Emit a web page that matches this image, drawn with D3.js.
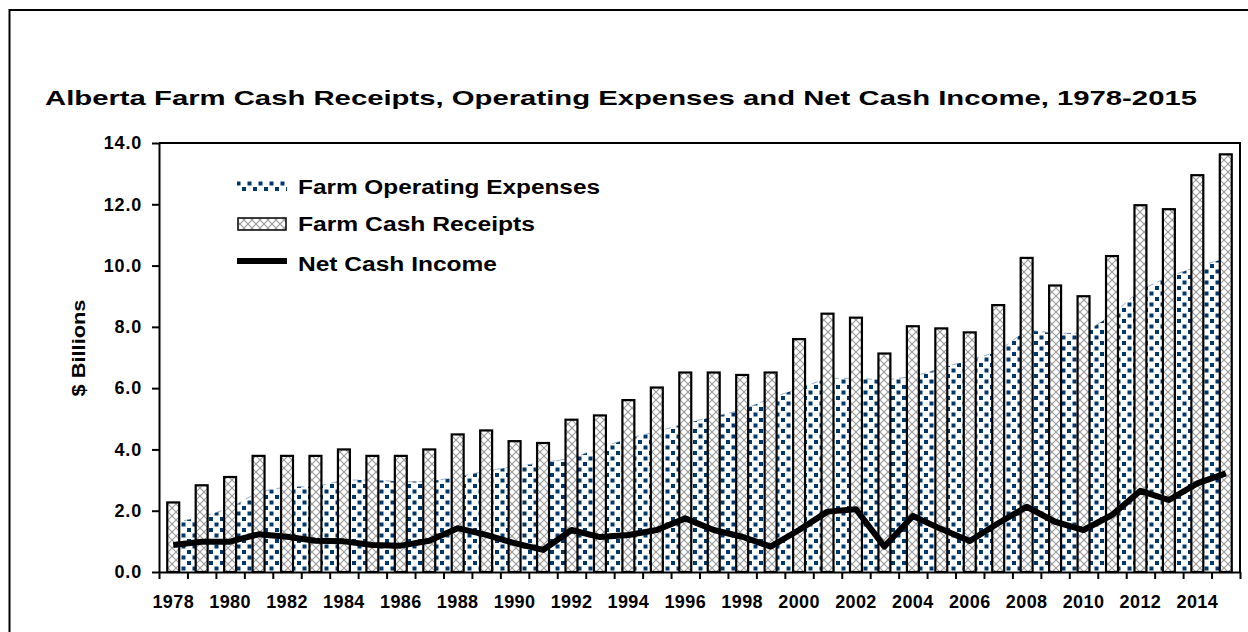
<!DOCTYPE html>
<html>
<head>
<meta charset="utf-8">
<script src="https://cdn.jsdelivr.net/npm/d3@7"></script>
<style>
  html, body { margin: 0; padding: 0; background: #fff; }
  svg text { font-family: Arial, "Liberation Sans", sans-serif; font-weight: bold; fill: #000; }
</style>
</head>
<body>
<div id="chart"></div>
<script>
// ---- data ----
const years = d3.range(1978, 2016);
const receipts = [2.27, 2.83, 3.10, 3.79, 3.79, 3.79, 4.00, 3.79, 3.79, 4.00,
                  4.49, 4.62, 4.27, 4.21, 4.97, 5.11, 5.61, 6.02, 6.51, 6.51,
                  6.43, 6.51, 7.60, 8.43, 8.30, 7.13, 8.02, 7.95, 7.82, 8.71,
                  10.25, 9.35, 9.00, 10.31, 11.97, 11.84, 12.95, 13.63];
const expenses = [1.60, 1.80, 2.08, 2.62, 2.78, 2.78, 3.00, 3.00, 2.95, 2.95,
                  3.10, 3.30, 3.44, 3.57, 3.71, 4.05, 4.36, 4.58, 4.85, 5.07,
                  5.29, 5.67, 6.00, 6.32, 6.32, 6.27, 6.37, 6.65, 6.92, 7.19,
                  7.90, 7.79, 7.79, 8.39, 9.20, 9.64, 9.96, 10.24];
const netIncome = [0.88, 0.99, 0.99, 1.23, 1.15, 1.02, 1.00, 0.88, 0.86, 1.02,
                   1.43, 1.21, 0.94, 0.72, 1.37, 1.14, 1.21, 1.37, 1.75, 1.37,
                   1.15, 0.83, 1.37, 1.97, 2.05, 0.83, 1.83, 1.40, 1.01, 1.59,
                   2.13, 1.64, 1.37, 1.86, 2.65, 2.35, 2.89, 3.22];
const yTicks = [0, 2, 4, 6, 8, 10, 12, 14];
const seriesNames = ["Farm Operating Expenses", "Farm Cash Receipts", "Net Cash Income"];
const title = "Alberta Farm Cash Receipts, Operating Expenses and Net Cash Income, 1978-2015";

const rows = years.map((yr, i) => ({ year: yr, rec: receipts[i], exp: expenses[i], net: netIncome[i] }));

// ---- layout ----
const W = 1248, H = 632;
const L = 159, R = 1240, T = 143, B = 572;

const svg = d3.select("#chart").append("svg")
  .attr("width", W).attr("height", H);

const defs = svg.append("defs");

// dotted navy fill for the expenses area
const dots = defs.append("pattern").attr("id", "dots")
  .attr("patternUnits", "userSpaceOnUse").attr("width", 11).attr("height", 11);
dots.append("rect").attr("x", 0).attr("y", 0).attr("width", 4).attr("height", 4).attr("fill", "#00386c");
dots.append("rect").attr("x", 5.5).attr("y", 5.5).attr("width", 4).attr("height", 4).attr("fill", "#00386c");

// grey cross hatch for the receipts bars
const hatch = defs.append("pattern").attr("id", "hatch")
  .attr("patternUnits", "userSpaceOnUse").attr("width", 8).attr("height", 8);
hatch.append("rect").attr("width", 8).attr("height", 8).attr("fill", "#fff");
hatch.append("path").attr("d", "M0,0L8,8M8,0L0,8")
  .attr("stroke", "#999").attr("stroke-width", 1.1);

// outer frame
svg.append("rect")
  .attr("x", 9.5).attr("y", 10).attr("width", 1300).attr("height", 700)
  .attr("fill", "none").attr("stroke", "#000").attr("stroke-width", 2);

// title
svg.append("text")
  .attr("x", 45).attr("y", 105)
  .attr("textLength", 1152).attr("lengthAdjust", "spacingAndGlyphs")
  .style("font-size", "21px")
  .text(title);

// ---- scales ----
const x = d3.scaleBand().domain(years).range([L, R]).paddingInner(0).paddingOuter(0);
const xIdx = d3.scaleLinear().domain([0, years.length]).range([L, R]);
const y = d3.scaleLinear().domain([0, 14]).range([B, T]);
const cx = d => x(d.year) + x.bandwidth() / 2;
const barW = x.bandwidth() * 0.42;

// expenses area
svg.append("path").datum(rows)
  .attr("d", d3.area().x(cx).y0(y(0)).y1(d => y(d.exp)))
  .attr("fill", "url(#dots)");
svg.append("path").datum(rows)
  .attr("d", d3.line().x(cx).y(d => y(d.exp)))
  .attr("fill", "none").attr("stroke", "#7e9bbd").attr("stroke-width", 0.8)
  .attr("stroke-dasharray", "6,5");

// receipts bars
svg.selectAll("rect.bar").data(rows).join("rect")
  .attr("class", "bar")
  .attr("x", d => cx(d) - barW / 2)
  .attr("y", d => y(d.rec))
  .attr("width", barW)
  .attr("height", d => y(0) - y(d.rec))
  .attr("fill", "url(#hatch)")
  .attr("stroke", "#000").attr("stroke-width", 2.2);

// net cash income line
svg.append("path").datum(rows)
  .attr("d", d3.line().x(cx).y(d => y(d.net)))
  .attr("fill", "none").attr("stroke", "#000").attr("stroke-width", 6)
  .attr("stroke-linejoin", "round").attr("stroke-linecap", "butt");

// plot box top / right
svg.append("path")
  .attr("d", `M${L},${T}H${R}V${B}`)
  .attr("fill", "none").attr("stroke", "#000").attr("stroke-width", 2);

// y axis
const yAxis = svg.append("g").attr("transform", `translate(${L},0)`)
  .call(d3.axisLeft(y).tickValues(yTicks).tickFormat(d3.format(".1f")).tickSize(7).tickSizeOuter(0).tickPadding(10));
yAxis.select(".domain").attr("stroke-width", 2);
yAxis.selectAll(".tick line").attr("stroke-width", 2);
yAxis.selectAll("text").style("font-size", "18px").style("letter-spacing", "0.8px")
  .style("font-family", "Arial, 'Liberation Sans', sans-serif").style("font-weight", "bold");

// x axis: ticks at category boundaries
const xTickAxis = svg.append("g").attr("transform", `translate(0,${B})`)
  .call(d3.axisBottom(xIdx).tickValues(d3.range(0, years.length + 1)).tickFormat("").tickSize(7).tickSizeOuter(0));
xTickAxis.select(".domain").attr("stroke-width", 2);
xTickAxis.selectAll(".tick line").attr("stroke-width", 2);

// x labels every other year, centred on the category
const xLabAxis = svg.append("g").attr("transform", `translate(0,${B})`)
  .call(d3.axisBottom(x).tickValues(years.filter((d, i) => i % 2 === 0)).tickSize(0).tickPadding(23));
xLabAxis.select(".domain").remove();
xLabAxis.selectAll("text").style("font-size", "18px").style("letter-spacing", "0.4px")
  .style("font-family", "Arial, 'Liberation Sans', sans-serif").style("font-weight", "bold");

// y axis title
svg.append("text")
  .attr("transform", "translate(85,348) rotate(-90)")
  .attr("text-anchor", "middle")
  .attr("textLength", 97).attr("lengthAdjust", "spacingAndGlyphs")
  .style("font-size", "18px")
  .text("$ Billions");

// legend
const lg = svg.append("g");
lg.append("rect").attr("x", 237).attr("y", 181).attr("width", 50).attr("height", 10).attr("fill", "url(#dots)");
lg.append("rect").attr("x", 238).attr("y", 218).attr("width", 48).attr("height", 12)
  .attr("fill", "url(#hatch)").attr("stroke", "#000").attr("stroke-width", 1.5);
lg.append("line").attr("x1", 237).attr("x2", 287).attr("y1", 261).attr("y2", 261)
  .attr("stroke", "#000").attr("stroke-width", 6);
const legendY = [194, 231, 271];
const legendLen = [302, 237, 199];
lg.selectAll("text.leg").data(seriesNames).join("text")
  .attr("class", "leg")
  .attr("x", 298).attr("y", (d, i) => legendY[i])
  .attr("textLength", (d, i) => legendLen[i]).attr("lengthAdjust", "spacingAndGlyphs")
  .style("font-size", "20px")
  .text(d => d);
</script>
</body>
</html>
